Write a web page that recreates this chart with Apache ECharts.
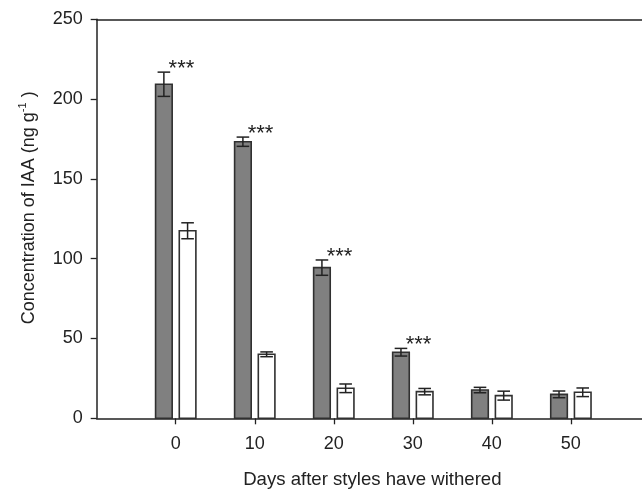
<!DOCTYPE html>
<html>
<head>
<meta charset="utf-8">
<script src="https://cdn.jsdelivr.net/npm/echarts@6/dist/echarts.min.js"></script>
<style>
html,body{margin:0;padding:0;background:#fff;}
#chart{width:642px;height:490px;}
</style>
</head>
<body>
<div id="chart"></div>
<script>
// ---- data ----
const days = [0, 10, 20, 30, 40, 50];
const darkMeans = [209.3, 173.3, 94.4, 41.4, 17.7, 15.0];
const darkErr   = [7.6, 2.9, 4.8, 2.4, 1.7, 2.1];
const whiteMeans = [117.5, 40.1, 18.8, 16.7, 14.2, 16.3];
const whiteErr   = [5.0, 1.5, 2.7, 2.0, 2.8, 2.7];
const sigLabels = ['***', '***', '***', '***', '', ''];
const yTicks = [0, 50, 100, 150, 200, 250];

// ---- layout constants (not data) ----
const BAR_OFFSET = 1.5;   // in x units from tick
const BAR_WIDTH = 2.1;    // in x units
const CAP_HALF = 6.3;     // px
const FONT = 'Liberation Sans, Arial, Helvetica, sans-serif';
const INK = '#222222';

const chart = echarts.init(document.getElementById('chart'), null, {renderer: 'canvas'});

function barSeries(means, offset, fill) {
  return {
    type: 'custom',
    data: days.map((d, i) => [d, means[i]]),
    renderItem: function (params, api) {
      const x = api.value(0), y = api.value(1);
      const p0 = api.coord([x + offset - BAR_WIDTH / 2, y]);
      const p1 = api.coord([x + offset + BAR_WIDTH / 2, 0]);
      return {
        type: 'rect',
        shape: {x: p0[0], y: p0[1], width: p1[0] - p0[0], height: p1[1] - p0[1]},
        style: {fill: fill, stroke: '#303030', lineWidth: 1.6}
      };
    },
    z: 2
  };
}

function errSeries(means, errs, offset) {
  return {
    type: 'custom',
    data: days.map((d, i) => [d, means[i], errs[i]]),
    renderItem: function (params, api) {
      const x = api.value(0) + offset, m = api.value(1), e = api.value(2);
      const top = api.coord([x, m + e]);
      const bot = api.coord([x, m - e]);
      const st = {stroke: INK, lineWidth: 1.5};
      return {
        type: 'group',
        children: [
          {type: 'line', shape: {x1: top[0], y1: top[1], x2: bot[0], y2: bot[1]}, style: st},
          {type: 'line', shape: {x1: top[0] - CAP_HALF, y1: top[1], x2: top[0] + CAP_HALF, y2: top[1]}, style: st},
          {type: 'line', shape: {x1: bot[0] - CAP_HALF, y1: bot[1], x2: bot[0] + CAP_HALF, y2: bot[1]}, style: st}
        ]
      };
    },
    z: 3
  };
}

const sigSeries = {
  type: 'custom',
  data: days.map((d, i) => [d, darkMeans[i] + darkErr[i], sigLabels[i]]),
  renderItem: function (params, api) {
    const txt = sigLabels[params.dataIndex];
    if (!txt) return null;
    const p = api.coord([api.value(0) - 0.9, api.value(1)]);
    return {
      type: 'text',
      style: {
        text: txt, x: p[0], y: p[1] - 3,
        fill: INK, font: '22px ' + FONT,
        textAlign: 'left', textVerticalAlign: 'middle'
      }
    };
  },
  z: 4
};

const option = {
  animation: false,
  backgroundColor: '#ffffff',
  grid: {left: 96.7, right: 0, top: 19.3, bottom: 71.7, containLabel: false, outerBoundsMode: 'none'},
  xAxis: [{
    type: 'value',
    min: -10, max: 59,
    name: 'Days after styles have withered',
    nameLocation: 'middle',
    nameGap: 52,
    nameTextStyle: {fontFamily: FONT, fontSize: 18.6, color: INK, padding: [0, 0, 0, 6]},
    axisLine: {show: true, onZero: false, lineStyle: {color: INK, width: 1.5}},
    axisTick: {show: true, length: 6, inside: false, customValues: days, lineStyle: {color: INK, width: 1.3}},
    axisLabel: {customValues: days, fontFamily: FONT, fontSize: 18, color: INK, margin: 17},
    splitLine: {show: false}
  }, {
    type: 'value', position: 'top',
    min: -10, max: 59,
    axisLine: {show: true, onZero: false, lineStyle: {color: INK, width: 1.5}},
    axisTick: {show: false}, axisLabel: {show: false}, splitLine: {show: false}
  }],
  yAxis: {
    type: 'value',
    min: 0, max: 250, interval: 50,
    name: '{a|Concentration of IAA (ng g}{sup|-1}{a| )}',
    nameLocation: 'middle',
    nameGap: 57,
    nameTextStyle: {
      padding: [0, 0, 0, 22],
      rich: {
        a: {fontFamily: FONT, fontSize: 18, color: INK, lineHeight: 22},
        sup: {fontFamily: FONT, fontSize: 11, color: INK, verticalAlign: 'top', lineHeight: 22, padding: [0, 0, 8, 0]}
      }
    },
    axisLine: {show: true, onZero: false, lineStyle: {color: INK, width: 1.5}},
    axisTick: {show: true, length: 6, inside: false, lineStyle: {color: INK, width: 1.3}},
    axisLabel: {
      fontFamily: FONT, fontSize: 18, color: INK, margin: 14,
      formatter: function (v) { return yTicks.indexOf(v) >= 0 ? String(v) : ''; }
    },
    splitLine: {show: false}
  },
  series: [
    barSeries(darkMeans, -BAR_OFFSET, '#808080'),
    barSeries(whiteMeans, BAR_OFFSET, '#ffffff'),
    errSeries(darkMeans, darkErr, -BAR_OFFSET),
    errSeries(whiteMeans, whiteErr, BAR_OFFSET),
    sigSeries
  ]
};
chart.setOption(option);
</script>
</body>
</html>
